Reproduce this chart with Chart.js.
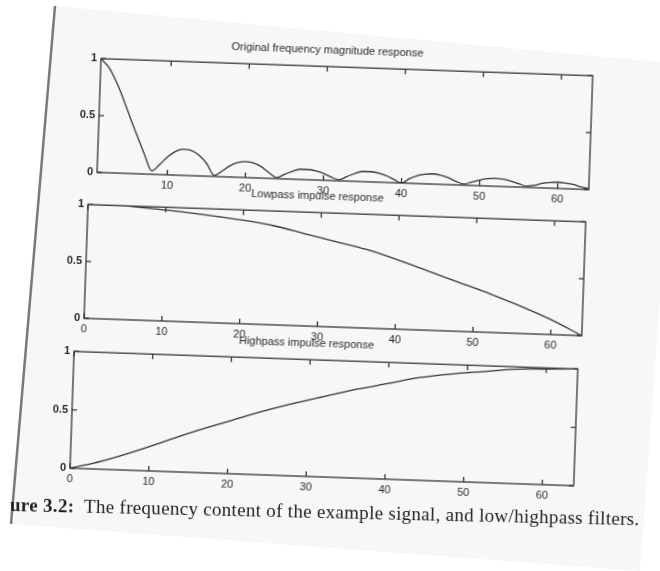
<!DOCTYPE html>
<html>
<head>
<meta charset="utf-8">
<script src="https://cdn.jsdelivr.net/npm/chart.js@4.4.1/dist/chart.umd.min.js"></script>
<style>
  html, body { margin: 0; padding: 0; background: #fff; }
  body { width: 660px; height: 571px; position: relative; overflow: hidden; }
  #paper { position: absolute; left: 0; top: 0; }
  .plot { position: absolute; transform: rotate(2deg); }
  #caption {
    position: absolute; left: 10px; top: 494px;
    font-family: 'Liberation Serif', 'DejaVu Serif', serif; font-size: 19px; letter-spacing: 0.3px; color: #222;
    transform: rotate(1.3deg); transform-origin: left center; white-space: nowrap;
  }
</style>
</head>
<body>
<svg id="paper" width="660" height="571">
  <polygon points="55,6 660,62 660,300 640,571 11,524" fill="#f7f7f7"/>
  <line x1="55" y1="6" x2="11" y2="524" stroke="#7a7a7a" stroke-width="2.5"/>
</svg>
<div class="plot" id="p1"><canvas id="c1"></canvas></div>
<div class="plot" id="p2"><canvas id="c2"></canvas></div>
<div class="plot" id="p3"><canvas id="c3"></canvas></div>
<div id="caption"><b>ure 3.2:</b>&nbsp; The frequency content of the example signal, and low/highpass filters.</div>

<script>
// titres des trois sous-graphes
const titles = [
  'Original frequency magnitude response',
  'Lowpass impulse response',
  'Highpass impulse response'
];

// magnitude d'origine, indices 1..64
const magnitude = [
  1.00, 0.93, 0.81, 0.66, 0.49, 0.33, 0.17, 0.03,
  0.09, 0.16, 0.21, 0.23, 0.22, 0.18, 0.11, 0.01,
  0.05, 0.10, 0.13, 0.14, 0.13, 0.10, 0.05, 0.01,
  0.04, 0.07, 0.09, 0.09, 0.08, 0.06, 0.03, 0.01,
  0.04, 0.07, 0.09, 0.09, 0.08, 0.06, 0.03, 0.00,
  0.04, 0.07, 0.085, 0.09, 0.08, 0.06, 0.03, 0.01,
  0.03, 0.05, 0.065, 0.07, 0.065, 0.05, 0.03, 0.01,
  0.02, 0.04, 0.05, 0.055, 0.05, 0.04, 0.02, 0.01
];

// réponses des filtres
const filterX  = [0, 4, 8, 12, 16, 20, 24, 28, 32, 36, 40, 44, 48, 52, 56, 60, 64];
const lowpass  = [1.00, 1.00, 0.985, 0.965, 0.94, 0.91, 0.87, 0.81, 0.75, 0.69, 0.61, 0.52, 0.43, 0.34, 0.24, 0.13, 0.00];
const highpass = [0.00, 0.07, 0.16, 0.26, 0.36, 0.45, 0.54, 0.62, 0.69, 0.76, 0.82, 0.88, 0.92, 0.95, 0.98, 0.99, 1.00];

// graduations
const magTicksX    = [10, 20, 30, 40, 50, 60];
const filterTicksX = [0, 10, 20, 30, 40, 50, 60];
const yTicks       = [0, 0.5, 1];

const INK = '#353535';
const FONT = "'Liberation Sans', Arial, sans-serif";

// cadre fermé + petites graduations vers l'intérieur (style MATLAB)
const boxTicksPlugin = {
  id: 'boxTicks',
  afterDraw(chart) {
    const ctx = chart.ctx;
    const a = chart.chartArea;
    const xs = chart.scales.x, ys = chart.scales.y;
    const tl = 5;
    ctx.save();
    ctx.strokeStyle = INK;
    ctx.lineWidth = 1.3;
    ctx.strokeRect(a.left, a.top, a.right - a.left, a.bottom - a.top);
    ctx.beginPath();
    xs.ticks.forEach(function(t) {
      const px = xs.getPixelForValue(t.value);
      ctx.moveTo(px, a.bottom); ctx.lineTo(px, a.bottom - tl);
      ctx.moveTo(px, a.top); ctx.lineTo(px, a.top + tl);
    });
    ys.ticks.forEach(function(t) {
      const py = ys.getPixelForValue(t.value);
      ctx.moveTo(a.left, py); ctx.lineTo(a.left + tl, py);
      ctx.moveTo(a.right, py); ctx.lineTo(a.right - tl, py);
    });
    ctx.stroke();
    ctx.restore();
  }
};

function makePlot(n, cfg) {
  const yW = 40, pad = 40, xH = 19;
  const titleH = 2 + 11 * 1.2 + 10;
  const W = yW + cfg.w + pad;
  const H = Math.round(titleH + cfg.h + xH);
  const canvas = document.getElementById('c' + n);
  canvas.width = W;
  canvas.height = H;
  const box = document.getElementById('p' + n);
  box.style.left = (cfg.cx - (yW + cfg.w / 2)) + 'px';
  box.style.top = (cfg.cy - (titleH + cfg.h / 2)) + 'px';

  return new Chart(canvas, {
    type: 'line',
    data: {
      datasets: [{
        data: cfg.points,
        borderColor: INK,
        borderWidth: 1.3,
        pointRadius: 0,
        fill: false,
        cubicInterpolationMode: 'monotone'
      }]
    },
    options: {
      responsive: false,
      animation: false,
      devicePixelRatio: 1,
      layout: { padding: { left: 0, right: pad, top: 0, bottom: 0 } },
      plugins: {
        legend: { display: false },
        tooltip: { enabled: false },
        title: {
          display: true,
          text: cfg.title,
          color: '#2a2a2a',
          font: { family: FONT, size: 11, weight: 'normal' },
          padding: { top: 2, bottom: 10 }
        }
      },
      scales: {
        x: {
          type: 'linear',
          min: cfg.xMin,
          max: 64,
          grid: { display: false, drawTicks: false },
          border: { display: false },
          afterBuildTicks: function(s) { s.ticks = cfg.xTicks.map(function(v) { return { value: v }; }); },
          afterFit: function(s) { s.height = xH; },
          ticks: {
            color: '#2a2a2a', padding: 4, maxRotation: 0, autoSkip: false,
            font: { family: FONT, size: 11 },
            callback: function(v) { return String(v); }
          }
        },
        y: {
          min: 0,
          max: 1,
          grid: { display: false, drawTicks: false },
          border: { display: false },
          afterBuildTicks: function(s) { s.ticks = yTicks.map(function(v) { return { value: v }; }); },
          afterFit: function(s) { s.width = yW; },
          ticks: {
            color: '#2a2a2a', padding: 4,
            font: { family: FONT, size: 11, weight: 'bold' },
            callback: function(v) { return String(v); }
          }
        }
      }
    },
    plugins: [boxTicksPlugin]
  });
}

makePlot(1, {
  title: titles[0],
  points: magnitude.map(function(v, i) { return { x: i + 1, y: v }; }),
  xMin: 1, xTicks: magTicksX,
  cx: 345, cy: 124, w: 492, h: 114
});
makePlot(2, {
  title: titles[1],
  points: lowpass.map(function(v, i) { return { x: filterX[i], y: v }; }),
  xMin: 0, xTicks: filterTicksX,
  cx: 335, cy: 270, w: 498, h: 114
});
makePlot(3, {
  title: titles[2],
  points: highpass.map(function(v, i) { return { x: filterX[i], y: v }; }),
  xMin: 0, xTicks: filterTicksX,
  cx: 324, cy: 419, w: 504, h: 117
});
</script>
</body>
</html>
